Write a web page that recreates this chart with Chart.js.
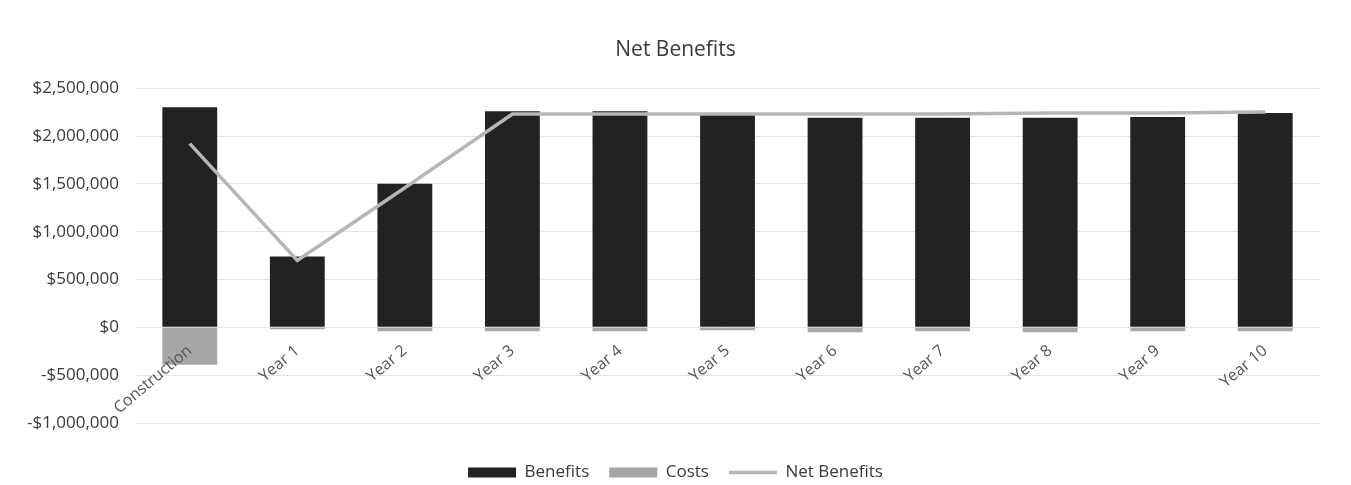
<!DOCTYPE html>
<html>
<head>
<meta charset="utf-8">
<script src="https://cdn.jsdelivr.net/npm/chart.js@4.4.1/dist/chart.umd.min.js"></script>
<style>
  html, body { margin: 0; padding: 0; background: #fff; }
  #wrap { width: 1351px; height: 485px; }
</style>
</head>
<body>
<div id="wrap"><canvas id="netChart"></canvas></div>
<script>
const categories = ['Construction', 'Year 1', 'Year 2', 'Year 3', 'Year 4', 'Year 5',
                    'Year 6', 'Year 7', 'Year 8', 'Year 9', 'Year 10'];
const benefits = [2300000, 740000, 1500000, 2260000, 2260000, 2240000,
                  2190000, 2190000, 2190000, 2200000, 2240000];
const costs = [-390000, -20000, -40000, -40000, -40000, -30000,
               -50000, -40000, -50000, -40000, -40000];
const netBenefits = [1920000, 700000, 1460000, 2230000, 2230000, 2230000,
                     2230000, 2230000, 2240000, 2240000, 2250000];
const yTicks = [-1000000, -500000, 0, 500000, 1000000, 1500000, 2000000, 2500000];
const legendOrder = ['Benefits', 'Costs', 'Net Benefits'];

(function () {
    const ctx = document.getElementById('netChart').getContext('2d');
    const font = "'Open Sans', 'Liberation Sans', sans-serif";
    const money = (v) => (v < 0 ? '-$' : '$') + Math.abs(v).toLocaleString('en-US');

    new Chart(ctx, {
        data: {
            labels: categories,
            datasets: [
                {
                    type: 'line',
                    label: 'Net Benefits',
                    data: netBenefits,
                    borderColor: '#b6b6b6',
                    backgroundColor: '#b6b6b6',
                    borderWidth: 3.5,
                    pointRadius: 0,
                    pointStyle: 'line',
                    stack: 'net',
                    order: 0
                },
                {
                    type: 'bar',
                    label: 'Benefits',
                    data: benefits,
                    backgroundColor: '#222222',
                    pointStyle: 'rect',
                    stack: 'bars',
                    order: 1
                },
                {
                    type: 'bar',
                    label: 'Costs',
                    data: costs,
                    backgroundColor: '#a6a6a6',
                    pointStyle: 'rect',
                    stack: 'bars',
                    order: 1
                }
            ]
        },
        options: {
            responsive: true,
            maintainAspectRatio: false,
            animation: false,
            datasets: {
                bar: { barPercentage: 0.51, categoryPercentage: 1 }
            },
            layout: { padding: { left: 0, right: 0, top: 29, bottom: -6 } },
            plugins: {
                title: {
                    display: true,
                    text: 'Net Benefits',
                    color: '#3a3a3a',
                    font: { family: font, size: 21, weight: 'normal' },
                    padding: { top: 8, bottom: 26 }
                },
                legend: {
                    position: 'bottom',
                    // empty title only used as spacing above the legend row
                    title: { display: true, text: '', font: { size: 10 }, padding: { top: 2, bottom: 7 } },
                    labels: {
                        color: '#3a3a3a',
                        font: { family: font, size: 17 },
                        usePointStyle: true,
                        pointStyleWidth: 48,
                        boxHeight: 10,
                        padding: 20,
                        sort: (a, b) => legendOrder.indexOf(a.text) - legendOrder.indexOf(b.text)
                    }
                },
                tooltip: { enabled: false }
            },
            scales: {
                x: {
                    stacked: true,
                    position: { y: 0 },
                    grid: { display: false },
                    border: { display: false },
                    ticks: {
                        z: 1,
                        color: '#555555',
                        font: { family: font, size: 16 },
                        minRotation: 40,
                        maxRotation: 40,
                        padding: 6
                    }
                },
                y: {
                    stacked: true,
                    min: -1000000,
                    max: 2500000,
                    afterBuildTicks: (axis) => { axis.ticks = yTicks.map(v => ({ value: v })); },
                    afterFit: (axis) => { axis.width = 136; },
                    grid: { color: '#e3e3e3', drawTicks: false },
                    border: { display: false },
                    ticks: {
                        color: '#3a3a3a',
                        font: { family: font, size: 17 },
                        padding: 17,
                        callback: (v) => money(v)
                    }
                },
                // empty right-hand margin, keeps title and legend centred on the page
                yRight: {
                    position: 'right',
                    grid: { display: false },
                    border: { display: false },
                    ticks: { display: false },
                    afterFit: (axis) => { axis.width = 32; }
                }
            }
        }
    });
})();
</script>
</body>
</html>
